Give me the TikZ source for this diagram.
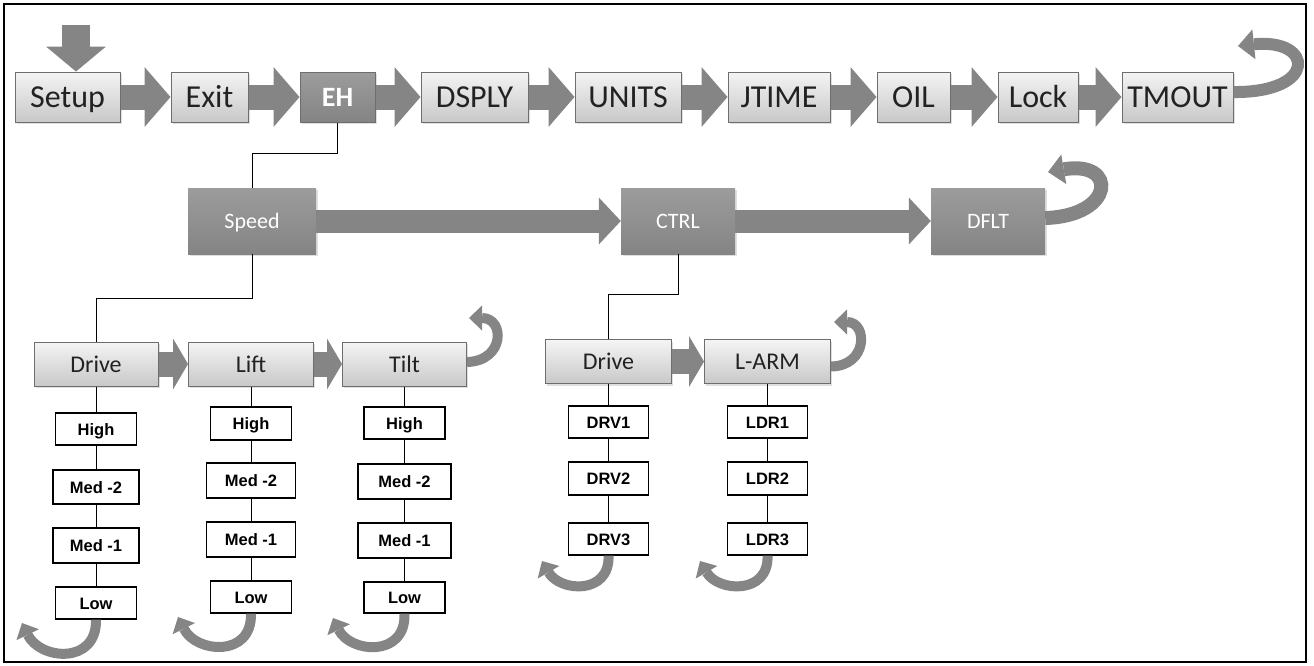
\documentclass[tikz,border=0pt]{standalone}
\usepackage{fontspec}
\setmainfont{Carlito}
\newfontfamily\boxfont{Liberation Sans}
\usetikzlibrary{arrows.meta, shadows}
\definecolor{arrowgray}{HTML}{858585}
\definecolor{boxedge}{HTML}{6E6E6E}
\definecolor{boxtop}{HTML}{F4F4F4}
\definecolor{boxbottom}{HTML}{C8C8C8}
\definecolor{darktop}{HTML}{9C9C9C}
\definecolor{darkbottom}{HTML}{848484}
\definecolor{inktext}{HTML}{222222}
\tikzset{
  menu/.style={draw=boxedge, line width=1pt, top color=boxtop, bottom color=boxbottom,
    inner sep=0pt, text=inktext, minimum height=50pt,
    text height=21pt, text depth=0pt,
    drop shadow={opacity=0.25, shadow xshift=1.5pt, shadow yshift=-2pt},
    font=\fontsize{32}{32}\selectfont},
  menusel/.style={menu, top color=darktop, bottom color=darkbottom, draw=boxedge,
    text=white, text height=19pt, font=\fontsize{28}{28}\selectfont\bfseries},
  group/.style={top color=darktop, bottom color=darkbottom, inner sep=0pt,
    minimum height=66pt, text=white, text height=14.3pt, text depth=0pt,
    drop shadow={opacity=0.25, shadow xshift=2pt, shadow yshift=-2pt},
    font=\fontsize{22}{22}\selectfont},
  sub/.style={menu, minimum height=44pt, text height=16.8pt,
    font=\fontsize{24}{24}\selectfont},
  item/.style={draw=black, line width=1.3pt, fill=white, inner sep=0pt,
    minimum width=81pt, minimum height=32pt, text height=12pt, text depth=0pt,
    font=\boxfont\bfseries\fontsize{16.5}{16.5}\selectfont},
  blockarrow/.style={arrowgray, line width=25pt,
    -{Triangle[length=26pt, width=60pt, line width=0pt]}},
  smallarrow/.style={arrowgray, line width=25pt,
    -{Triangle[length=15pt, width=51pt, line width=0pt]}},
  longarrow/.style={arrowgray, line width=23pt,
    -{Triangle[length=22pt, width=47pt, line width=0pt]}},
  looparrow/.style={arrowgray, line width=12pt,
    -{Triangle[length=16pt, width=30pt, line width=0pt]}},
  smallloop/.style={arrowgray, line width=10pt,
    -{Triangle[length=13pt, width=25pt, line width=0pt]}},
  link/.style={black, line width=1pt}
}

\begin{document}
\begin{tikzpicture}[x=1pt, y=-1pt]
  \useasboundingbox (0,0) rectangle (1314,665);
  \draw[line width=1.3pt] (4,4) rectangle (1306,662);

  % Top row
  \node[menu, minimum width=105pt] (setup) at (67.5,97) {Setup};
  \node[menu, minimum width=77pt] (exit) at (209.5,97) {Exit};
  \node[menusel, minimum width=75pt] (eh) at (337.5,97) {EH};
  \node[menu, minimum width=107pt] (dsply) at (474.5,97) {DSPLY};
  \node[menu, minimum width=106pt] (units) at (628,97) {UNITS};
  \node[menu, minimum width=102pt] (jtime) at (779,97) {JTIME};
  \node[menu, minimum width=73pt] (oil) at (913.5,97) {OIL};
  \node[menu, minimum width=80pt] (lock) at (1038,97) {Lock};
  \node[menu, minimum width=111pt] (tmout) at (1177.5,97) {TMOUT};
  \coordinate (entry) at (76,25);

  % Second row
  \node[group, minimum width=128pt] (speed) at (252,221) {Speed};
  \node[group, minimum width=114pt] (ctrl) at (678,221) {CTRL};
  \node[group, minimum width=114pt] (dflt) at (988,221) {DFLT};

  % Speed branch
  \node[sub, minimum width=124pt] (drivea) at (96,364) {Drive};
  \node[sub, minimum width=125pt] (lift) at (251,364) {Lift};
  \node[sub, minimum width=124pt] (tilt) at (404.5,364) {Tilt};
  \node[item] (higha) at (96,429) {High};
  \node[item, minimum width=86pt, minimum height=34pt] (medtwoa) at (96,487) {Med -2};
  \node[item, minimum width=86pt, minimum height=35pt] (medonea) at (96,545.5) {Med -1};
  \node[item] (lowa) at (96,603) {Low};
  \node[item, minimum height=33pt] (highb) at (251,423.5) {High};
  \node[item, minimum width=89pt, minimum height=35pt] (medtwob) at (251,480.5) {Med -2};
  \node[item, minimum width=89pt, minimum height=35pt] (medoneb) at (251,539.5) {Med -1};
  \node[item] (lowb) at (251,597) {Low};
  \node[item] (highc) at (404.5,423) {High};
  \node[item, minimum width=93pt, minimum height=35pt] (medtwoc) at (404.5,481.5) {Med -2};
  \node[item, minimum width=93pt, minimum height=35pt] (medonec) at (404.5,540.5) {Med -1};
  \node[item, minimum height=31pt] (lowc) at (404.5,597.5) {Low};

  % CTRL branch
  \node[sub, minimum width=126pt] (driveb) at (608.5,361.5) {Drive};
  \node[sub, minimum width=126pt] (larm) at (767.5,361.5) {L-ARM};
  \node[item, minimum width=80pt] (drvone) at (608.5,422) {DRV1};
  \node[item, minimum width=80pt, minimum height=33pt] (drvtwo) at (608.5,478.5) {DRV2};
  \node[item, minimum width=80pt] (drvthree) at (608.5,539) {DRV3};
  \node[item, minimum width=80pt] (ldrone) at (767.5,422) {LDR1};
  \node[item, minimum width=80pt, minimum height=33pt] (ldrtwo) at (767.5,478.5) {LDR2};
  \node[item, minimum width=80pt] (ldrthree) at (767.5,539) {LDR3};

  % Block arrows
  \draw[arrowgray, line width=28pt, -{Triangle[length=25pt, width=60pt, line width=0pt]}]
    (entry) -- (entry |- setup.north);
  \draw[blockarrow] (setup.east) -- (exit.west);
  \draw[blockarrow] (exit.east) -- (eh.west);
  \draw[blockarrow] (eh.east) -- (dsply.west);
  \draw[blockarrow] (dsply.east) -- (units.west);
  \draw[blockarrow] (units.east) -- (jtime.west);
  \draw[blockarrow] (jtime.east) -- (oil.west);
  \draw[blockarrow] (oil.east) -- (lock.west);
  \draw[blockarrow] (lock.east) -- (tmout.west);
  \draw[longarrow] (speed.east) -- (ctrl.west);
  \draw[longarrow] (ctrl.east) -- (dflt.west);
  \draw[smallarrow] (drivea.east) -- (lift.west);
  \draw[smallarrow] (lift.east) -- (tilt.west);
  \draw[smallarrow] (driveb.east) -- (larm.west);

  % Loops
  \draw[looparrow] ([yshift=5pt]tmout.east) .. controls (1318,93) and (1314,38) .. (1238,46);
  \draw[looparrow, line width=14pt] ([yshift=3pt]dflt.east) .. controls (1115,216) and (1118,160) .. (1048,172);
  \draw[smallloop] ([yshift=2pt]tilt.east) .. controls (505,361) and (505,318) .. (469,318);
  \draw[smallloop] ([yshift=-5pt]larm.east) .. controls (868,366) and (868,322) .. (834,322);
  \draw[smallloop] (lowa.south) .. controls (97,665) and (40,660) .. (22,623);
  \draw[smallloop] (lowb.south) .. controls (252,658) and (196,653) .. (178,617);
  \draw[smallloop] (lowc.south) .. controls (406,658) and (350,653) .. (333,618);
  \draw[smallloop] (drvthree.south) .. controls (610,595) and (560,592) .. (542,561);
  \draw[smallloop] (ldrthree.south) .. controls (769,595) and (718,592) .. (700,561);

  % Links
  \draw[link] (eh.south) -- ++(0,31) -| (speed.north);
  \draw[link] (speed.south) -- ++(0,44) -| (drivea.north);
  \draw[link] (ctrl.south) -- ++(0,40) -| (driveb.north);
  \draw[link] (drivea) -- (higha) -- (medtwoa) -- (medonea) -- (lowa);
  \draw[link] (lift) -- (highb) -- (medtwob) -- (medoneb) -- (lowb);
  \draw[link] (tilt) -- (highc) -- (medtwoc) -- (medonec) -- (lowc);
  \draw[link] (driveb) -- (drvone) -- (drvtwo) -- (drvthree);
  \draw[link] (larm) -- (ldrone) -- (ldrtwo) -- (ldrthree);
\end{tikzpicture}
\end{document}
